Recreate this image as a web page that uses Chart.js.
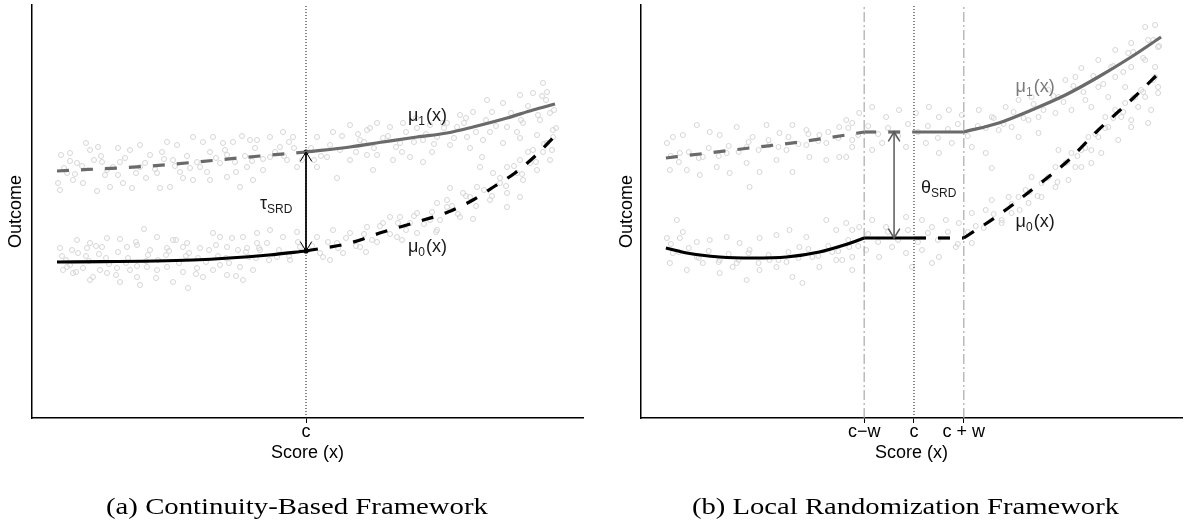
<!DOCTYPE html>
<html>
<head>
<meta charset="utf-8">
<script src="https://cdn.jsdelivr.net/npm/chart.js@4.4.1/dist/chart.umd.min.js"></script>
<style>
  body { margin: 0; background: #fff; width: 1187px; height: 523px; position: relative; overflow: hidden; }
  canvas { position: absolute; top: 0; }
  #chartA { left: 0; }
  #chartB { left: 600px; }
  .caption { position: absolute; top: 493px; font: 23px "Liberation Serif", "Times New Roman", serif; color: #000;
             white-space: nowrap; line-height: 28px; transform-origin: left center; }
</style>
</head>
<body>
<canvas id="chartA" width="600" height="523" style="width:600px;height:523px"></canvas>
<canvas id="chartB" width="587" height="523" style="width:587px;height:523px"></canvas>
<div class="caption" id="capA" style="left:106px">(a) Continuity-Based Framework</div>
<div class="caption" id="capB" style="left:692px">(b) Local Randomization Framework</div>
<script>
// ---- data (score centred on the cutoff c = 0, outcome in arbitrary units) ----
const xRangeA = [-274, 277];
const xRangeB = [-274, 269];
const yRange = [0, 413];

const tickValsA = [0];
const tickTextA = ['c'];
const tickValsB = [-50, 0, 50];
const tickTextB = ['c\u2212w', 'c', 'c + w'];

// (a) continuity-based
const mu1LeftA = [[-249, 247], [-156, 252], [-46, 262], [0, 266]];
const mu1RightA = [[0, 266], [44, 271], [77, 276], [111, 281], [141, 285], [167, 291], [201, 300], [227, 308], [249, 314]];
const mu0LeftA = [[-249, 156], [-113, 158], [-37, 163], [0, 167]];
const mu0RightA = [[0, 167], [44, 175], [77, 186], [111, 196], [142, 206], [167, 218], [189, 232], [209, 245], [227, 260], [249, 282]];
const effectA = [[0, 266], [0, 167]];

// (b) local randomization
const mu1LeftB = [[-249, 260], [-215, 264], [-165, 270], [-115, 276], [-68, 283], [-50, 286]];
const mu1FlatLeftB = [[-50, 286], [0, 286]];
const mu1FlatRightB = [[0, 286], [50, 286]];
const mu1RightB = [[50, 286], [85, 295], [118, 308], [152, 323], [185, 341], [218, 361], [248, 381]];
const mu0LeftB = [[-249, 170], [-228, 165], [-195, 161], [-162, 160], [-128, 161], [-95, 166], [-70, 173], [-50, 180]];
const mu0FlatLeftB = [[-50, 180], [0, 180]];
const mu0FlatRightB = [[0, 180], [50, 180]];
const mu0RightB = [[50, 180], [85, 203], [118, 228], [152, 255], [185, 288], [218, 318], [247, 346]];
const effectB = [[-20, 286], [-20, 180]];

const scatterA = [
  [-220, 275], [-245, 263], [-236, 265], [-229, 255], [-216, 268], [-208, 271], [-204, 256], [-188, 270], [-176, 268], [-166, 273],
  [-156, 263], [-139, 276], [-129, 273], [-113, 281], [-103, 276], [-93, 281], [-83, 275], [-73, 276], [-64, 282], [-56, 278],
  [-248, 235], [-246, 228], [-233, 238], [-223, 235], [-209, 227], [-196, 231], [-183, 235], [-174, 230], [-146, 230], [-136, 231],
  [-123, 240], [-113, 238], [-96, 238], [-79, 241], [-66, 231], [-53, 238], [-199, 248], [-166, 251], [-149, 245], [-126, 246],
  [-106, 251], [-86, 255], [-59, 251], [-239, 245], [-186, 256], [-133, 258], [-79, 263], [-49, 278], [-36, 281], [-23, 286],
  [-13, 281], [-36, 261], [-19, 258], [-43, 248], [-9, 251], [-26, 271],
  [-242, 250], [-231, 244], [-224, 252], [-212, 258], [-201, 243], [-193, 251], [-181, 260], [-170, 245], [-161, 255], [-151, 249],
  [-142, 259], [-131, 252], [-119, 262], [-109, 256], [-99, 246], [-90, 260], [-81, 268], [-71, 256], [-61, 262], [-51, 270],
  [-43, 259], [-31, 266], [-22, 262], [-12, 270], [-4, 258], [-236, 257], [-188, 243], [-144, 266], [-96, 266], [-54, 257],
  [-17, 276], [-205, 262], [-160, 240], [-116, 250], [-70, 246],
  [-162, 189], [-229, 178], [-216, 175], [-199, 180], [-186, 179], [-169, 173], [-149, 181], [-133, 178], [-119, 175], [-93, 185],
  [-86, 181], [-74, 180], [-63, 181], [-49, 175], [-246, 170], [-234, 168], [-219, 170], [-204, 171], [-179, 171], [-156, 168],
  [-139, 170], [-123, 171], [-106, 170], [-79, 171], [-59, 170], [-243, 148], [-233, 145], [-216, 138], [-199, 145], [-186, 136],
  [-169, 141], [-166, 133], [-149, 148], [-133, 136], [-118, 130], [-103, 141], [-93, 148], [-79, 143], [-63, 138], [-53, 148],
  [-239, 151], [-223, 150], [-206, 148], [-189, 150], [-176, 148], [-159, 151], [-139, 151], [-123, 146], [-109, 150], [-86, 153],
  [-66, 151], [-213, 141], [-240, 158], [-200, 160], [-160, 157], [-120, 162], [-80, 160], [-220, 162], [-180, 155], [-140, 163],
  [-100, 156], [-60, 166], [-49, 185], [-36, 188], [-23, 181], [-9, 186], [-46, 168], [-29, 161], [-16, 158], [-39, 175], [-6, 171],
  [-244, 162], [-236, 153], [-228, 165], [-217, 157], [-207, 164], [-197, 154], [-188, 166], [-178, 160], [-169, 152], [-158, 163],
  [-148, 158], [-137, 167], [-127, 155], [-117, 165], [-108, 160], [-97, 168], [-88, 162], [-77, 155], [-68, 168], [-57, 161],
  [-47, 170], [-37, 158], [-27, 168], [-17, 162], [-8, 176], [-230, 146], [-190, 143], [-150, 140], [-110, 144], [-70, 142],
  [-210, 172], [-170, 176], [-130, 178], [-90, 173], [-50, 160],
  [44, 293], [61, 288], [71, 295], [84, 291], [97, 295], [111, 290], [124, 293], [137, 295], [54, 278], [77, 280],
  [94, 275], [117, 278], [131, 281], [11, 281], [27, 286], [71, 263], [87, 258], [104, 261], [117, 256], [44, 258],
  [61, 263], [21, 261], [31, 240], [67, 248], [11, 251],
  [5, 270], [15, 262], [24, 273], [34, 268], [50, 266], [58, 276], [68, 270], [82, 282], [90, 271], [100, 286],
  [108, 276], [120, 284], [128, 274], [138, 290], [148, 280], [158, 295], [170, 286], [180, 298], [190, 292], [205, 305],
  [215, 298], [222, 312], [232, 303], [240, 318], [248, 308], [36, 282], [64, 290], [96, 266], [126, 266], [186, 306],
  [236, 322], [8, 258], [52, 284], [110, 300], [160, 300],
  [237, 335], [214, 323], [227, 325], [241, 326], [181, 318], [197, 315], [167, 306], [154, 303], [141, 295], [151, 291],
  [184, 286], [201, 291], [217, 295], [234, 298], [244, 305], [161, 281], [177, 278], [197, 275], [214, 280], [231, 283],
  [247, 288], [144, 273], [164, 270], [176, 261], [211, 286],
  [11, 181], [27, 188], [44, 185], [61, 191], [77, 195], [94, 201], [111, 205], [131, 215], [141, 218], [17, 161],
  [37, 165], [54, 171], [71, 176], [91, 181], [111, 185], [131, 188], [31, 175], [84, 201], [104, 195], [124, 198],
  [6, 172], [14, 165], [22, 176], [32, 170], [40, 180], [50, 172], [58, 184], [66, 178], [74, 192], [84, 184],
  [92, 195], [100, 188], [108, 202], [118, 194], [126, 206], [134, 198], [146, 212], [152, 204], [160, 222], [170, 212],
  [178, 228], [186, 222], [194, 240], [200, 232], [208, 252], [216, 244], [222, 266], [230, 256], [238, 274], [246, 268],
  [250, 290], [24, 158], [60, 166], [96, 178], [130, 186],
  [144, 230], [157, 225], [171, 231], [187, 245], [201, 251], [214, 258], [227, 268], [241, 275], [247, 281], [141, 211],
  [154, 201], [167, 199], [184, 218], [201, 225], [217, 238], [231, 248], [244, 258], [194, 235], [211, 245], [224, 255],
  [237, 266], [174, 251], [164, 221], [214, 221], [201, 211]
];
const scatterB = [
  [-248, 275], [-242, 281], [-232, 283], [-218, 293], [-205, 286], [-195, 283], [-178, 291], [-162, 281], [-148, 293], [-135, 285],
  [-122, 293], [-108, 288], [-95, 283], [-75, 291], [-62, 295], [-245, 248], [-228, 248], [-215, 243], [-198, 251], [-185, 245],
  [-168, 255], [-155, 246], [-138, 258], [-122, 246], [-105, 261], [-88, 258], [-75, 261], [-165, 231], [-235, 265], [-212, 261],
  [-188, 265], [-168, 271], [-145, 273], [-128, 268], [-108, 273], [-88, 275], [-62, 278],
  [-244, 262], [-236, 256], [-226, 266], [-216, 260], [-206, 270], [-196, 262], [-186, 272], [-176, 266], [-166, 276], [-156, 268],
  [-146, 278], [-136, 271], [-126, 281], [-116, 274], [-106, 284], [-96, 277], [-86, 286], [-76, 280], [-66, 290], [-56, 283],
  [-46, 292], [-36, 284], [-26, 290], [-16, 282], [-6, 294], [4, 286], [14, 292], [24, 280], [34, 289], [44, 294],
  [54, 282], [64, 292], [72, 290], [80, 300], [90, 294], [100, 306], [110, 300], [120, 314], [130, 308], [140, 322],
  [150, 316], [160, 332], [170, 326], [180, 342], [190, 334], [200, 352], [210, 346], [220, 366], [230, 360], [240, 378],
  [246, 372],
  [-238, 198], [-232, 186], [-248, 180], [-235, 180], [-218, 176], [-205, 178], [-188, 181], [-175, 175], [-155, 180], [-138, 183],
  [-125, 188], [-108, 181], [-88, 198], [-78, 188], [-62, 188], [-245, 155], [-228, 148], [-212, 155], [-195, 145], [-182, 151],
  [-168, 138], [-155, 148], [-138, 151], [-122, 141], [-112, 135], [-95, 151], [-78, 158], [-62, 161], [-242, 165], [-218, 161],
  [-195, 158], [-178, 155], [-145, 158], [-128, 156], [-102, 161], [-82, 166], [-165, 168], [-115, 171],
  [-244, 174], [-236, 166], [-226, 170], [-216, 160], [-206, 167], [-196, 156], [-186, 164], [-176, 158], [-166, 165], [-156, 155],
  [-146, 163], [-136, 158], [-126, 166], [-116, 160], [-106, 169], [-96, 162], [-86, 172], [-76, 167], [-66, 178], [-56, 172],
  [-46, 184], [-36, 176], [-26, 186], [-16, 178], [-6, 188], [4, 176], [14, 185], [24, 178], [34, 186], [44, 174],
  [54, 186], [62, 192], [70, 190], [80, 204], [88, 198], [98, 214], [106, 208], [116, 226], [124, 222], [134, 240],
  [144, 236], [154, 256], [164, 262], [172, 270], [182, 284], [192, 290], [200, 300], [210, 306], [220, 320], [230, 326],
  [240, 338],
  [-68, 298], [-55, 305], [-42, 311], [-28, 301], [-15, 308], [2, 305], [15, 311], [25, 301], [35, 308], [48, 303],
  [65, 308], [78, 301], [-62, 271], [-42, 268], [-32, 275], [-8, 271], [12, 275], [25, 265], [38, 275], [58, 271],
  [72, 265], [-68, 261], [78, 250],
  [-68, 195], [-55, 191], [-42, 198], [-28, 191], [-8, 201], [8, 198], [18, 191], [32, 198], [45, 195], [58, 205],
  [72, 208], [78, 218], [-65, 171], [-48, 168], [-35, 161], [-22, 171], [-8, 165], [8, 168], [25, 161], [42, 171],
  [58, 175], [-72, 158], [-62, 148], [-2, 151], [18, 155],
  [232, 391], [242, 393], [218, 375], [235, 378], [245, 371], [202, 368], [215, 365], [185, 358], [198, 351], [168, 350],
  [162, 341], [152, 338], [135, 328], [145, 321], [118, 321], [105, 318], [92, 311], [98, 291], [115, 298], [125, 301],
  [142, 305], [158, 308], [172, 318], [185, 331], [202, 341], [218, 351], [232, 358], [242, 341], [245, 325], [228, 328],
  [212, 331], [195, 321], [178, 311], [85, 288], [105, 281], [125, 285],
  [242, 351], [245, 331], [232, 321], [238, 308], [225, 311], [218, 298], [212, 315], [202, 308], [195, 291], [185, 281],
  [192, 301], [175, 281], [168, 268], [178, 268], [158, 265], [152, 255], [162, 251], [142, 251], [135, 241], [128, 235],
  [118, 241], [112, 228], [105, 221], [95, 221], [88, 195], [98, 205], [115, 215], [128, 221], [142, 231], [155, 238],
  [168, 251], [178, 255], [188, 265], [205, 278], [218, 291], [235, 295], [222, 321], [208, 301], [145, 268]
];

// ---- styling helpers ----
const SANS = '"Liberation Sans", Arial, Helvetica, sans-serif';
const GREY = '#6a6a6a';
const pts = arr => arr.map(([x, y]) => ({ x, y }));

function curve(arr, color, dashed, extra) {
  return Object.assign({
    type: 'line', data: pts(arr), borderColor: color, borderWidth: 3.2,
    borderDash: dashed ? [12, 12] : [], pointRadius: 0, fill: false,
    cubicInterpolationMode: 'monotone', order: 0
  }, extra || {});
}
function vline(xv, color, dash, width) {
  return {
    type: 'line', data: pts([[xv, yRange[0]], [xv, yRange[1]]]), borderColor: color,
    borderWidth: width, borderDash: dash, pointRadius: 0, fill: false, order: 5
  };
}
function cloud(arr) {
  return {
    type: 'scatter', data: pts(arr), pointRadius: 2.5, borderWidth: 1,
    borderColor: '#d5d5d5', backgroundColor: 'rgba(0,0,0,0)', order: 10
  };
}

// text with a subscript, placed in data units
const notesPlugin = {
  id: 'notes',
  afterDatasetsDraw(chart, args, opts) {
    const { ctx, scales: { x, y } } = chart;
    (opts.items || []).forEach(n => {
      let px = x.getPixelForValue(n.x);
      const py = y.getPixelForValue(n.y) + 6;
      ctx.save();
      ctx.fillStyle = n.color;
      ctx.textAlign = 'left';
      ctx.textBaseline = 'alphabetic';
      ctx.font = '18px ' + SANS;
      ctx.fillText(n.main, px, py);
      px += ctx.measureText(n.main).width;
      ctx.font = '12px ' + SANS;
      ctx.fillText(n.sub, px, py + 4);
      px += ctx.measureText(n.sub).width;
      if (n.tail) {
        ctx.font = '18px ' + SANS;
        ctx.fillText(n.tail, px + 1, py);
      }
      ctx.restore();
    });
  }
};

// open arrow heads on both ends of the effect segment
const arrowPlugin = {
  id: 'arrows',
  afterDatasetsDraw(chart) {
    const ctx = chart.ctx;
    chart.data.datasets.forEach((ds, i) => {
      if (!ds.arrow) return;
      const el = chart.getDatasetMeta(i).data;
      const a = el[0], b = el[el.length - 1];
      ctx.save();
      ctx.strokeStyle = ds.borderColor;
      ctx.lineWidth = ds.borderWidth;
      [[a, b], [b, a]].forEach(([tip, from]) => {
        const ang = Math.atan2(tip.y - from.y, tip.x - from.x);
        ctx.beginPath();
        ctx.moveTo(tip.x - 11 * Math.cos(ang - 0.55), tip.y - 11 * Math.sin(ang - 0.55));
        ctx.lineTo(tip.x, tip.y);
        ctx.lineTo(tip.x - 11 * Math.cos(ang + 0.55), tip.y - 11 * Math.sin(ang + 0.55));
        ctx.stroke();
      });
      ctx.restore();
    });
  }
};

function makePanel(id, xRange, tickVals, tickText, yAxisWidth, titlePad, rightPad, datasets, notes) {
  return new Chart(document.getElementById(id), {
    type: 'scatter',
    data: { datasets },
    plugins: [notesPlugin, arrowPlugin],
    options: {
      responsive: false,
      animation: false,
      devicePixelRatio: 1,
      layout: { padding: { top: 5, right: rightPad, left: 0, bottom: 0 } },
      plugins: { legend: { display: false }, tooltip: { enabled: false }, notes: { items: notes } },
      scales: {
        x: {
          type: 'linear', min: xRange[0], max: xRange[1],
          afterFit: s => { s.height = 105; },
          afterBuildTicks: s => { s.ticks = tickVals.map(v => ({ value: v })); },
          ticks: {
            autoSkip: false, maxRotation: 0, padding: 0, color: '#000',
            font: { family: SANS, size: 18, lineHeight: 1 },
            callback: (v, i) => tickText[i]
          },
          grid: { drawOnChartArea: false, drawTicks: true, tickLength: 5, color: '#000', lineWidth: 1 },
          border: { display: true, color: '#000', width: 1.5 },
          title: { display: true, text: 'Score (x)', color: '#000', font: { family: SANS, size: 18 }, padding: { top: 0, bottom: 59 } }
        },
        y: {
          type: 'linear', min: yRange[0], max: yRange[1],
          afterFit: s => { s.width = yAxisWidth; },
          ticks: { display: false },
          grid: { display: false },
          border: { display: true, color: '#000', width: 1.5 },
          title: { display: true, text: 'Outcome', color: '#000', font: { family: SANS, size: 18 }, padding: { top: titlePad, bottom: 0 } }
        }
      }
    }
  });
}

// ---- panel (a) ----
makePanel('chartA', xRangeA, tickValsA, tickTextA, 32, 5, 17, [
  curve(mu1LeftA, GREY, true),
  curve(mu1RightA, GREY, false),
  curve(mu0LeftA, '#000', false),
  curve(mu0RightA, '#000', true),
  { type: 'line', data: pts(effectA), borderColor: '#000', borderWidth: 1, pointRadius: 2.6,
    pointBackgroundColor: '#000', pointBorderWidth: 0, arrow: true, order: 1 },
  vline(tickValsA[0], '#111', [1, 2], 1),
  cloud(scatterA)
], [
  { x: 102, y: 303, main: '\u03bc', sub: '1', tail: '(x)', color: '#1a1a1a' },
  { x: 102, y: 172, main: '\u03bc', sub: '0', tail: '(x)', color: '#1a1a1a' },
  { x: -46, y: 215, main: '\u03c4', sub: 'SRD', color: '#1a1a1a' }
]);

// ---- panel (b) ----
makePanel('chartB', xRangeB, tickValsB, tickTextB, 41, 16, 3, [
  curve(mu1LeftB, GREY, true),
  curve(mu1FlatLeftB, GREY, true, { cubicInterpolationMode: 'default' }),
  curve(mu1FlatRightB, GREY, false, { cubicInterpolationMode: 'default' }),
  curve(mu1RightB, GREY, false),
  curve(mu0LeftB, '#000', false),
  curve(mu0FlatLeftB, '#000', false, { cubicInterpolationMode: 'default' }),
  curve(mu0FlatRightB, '#000', true, { cubicInterpolationMode: 'default' }),
  curve(mu0RightB, '#000', true),
  { type: 'line', data: pts(effectB), borderColor: '#5a5a5a', borderWidth: 1.5, pointRadius: 0, arrow: true, order: 1 },
  vline(tickValsB[0], '#aaa', [10, 3, 2, 3], 1.2),
  vline(tickValsB[2], '#aaa', [10, 3, 2, 3], 1.2),
  vline(tickValsB[1], '#111', [1, 2], 1),
  cloud(scatterB)
], [
  { x: 102, y: 332, main: '\u03bc', sub: '1', tail: '(x)', color: '#7a7a7a' },
  { x: 102, y: 197, main: '\u03bc', sub: '0', tail: '(x)', color: '#1a1a1a' },
  { x: 7, y: 231, main: '\u03b8', sub: 'SRD', color: '#1a1a1a' }
]);

// stretch the serif captions to the width they take in the figure
[['capA', 382], ['capB', 427]].forEach(([id, target]) => {
  const el = document.getElementById(id);
  const w = el.getBoundingClientRect().width;
  el.style.transform = 'scaleX(' + (target / w).toFixed(3) + ')';
});
</script>
</body>
</html>
